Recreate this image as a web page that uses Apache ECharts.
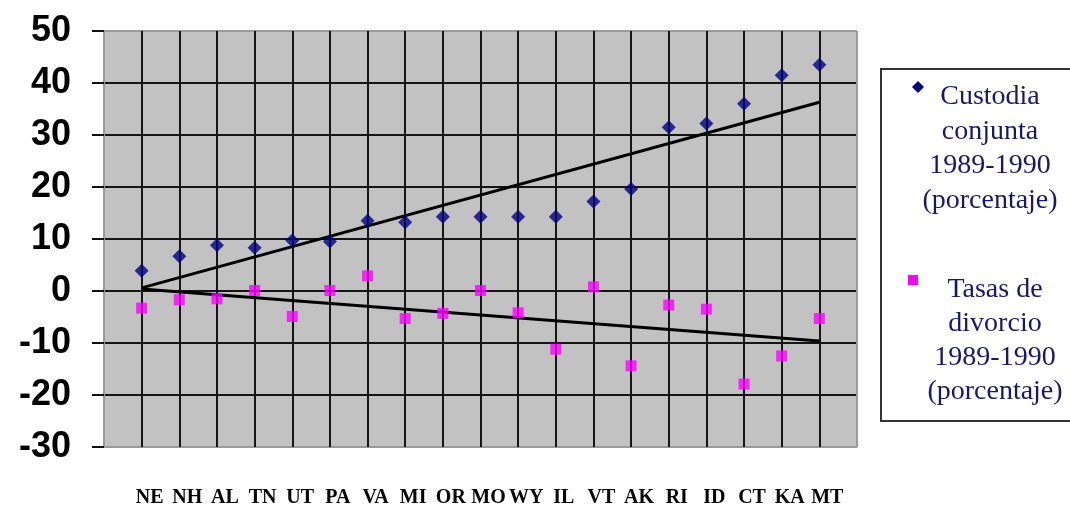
<!DOCTYPE html>
<html>
<head>
<meta charset="utf-8">
<script src="https://cdn.jsdelivr.net/npm/echarts@6/dist/echarts.min.js"></script>
<style>
html,body{margin:0;padding:0;background:#fff;}
#chart{width:1070px;height:513px;}
</style>
</head>
<body>
<div id="chart"></div>
<script>
// ---- data ----
var states = ['NE','NH','AL','TN','UT','PA','VA','MI','OR','MO','WY','IL','VT','AK','RI','ID','CT','KA','MT'];
var custodia = [3.9,6.7,8.8,8.3,9.7,9.5,13.5,13.2,14.3,14.3,14.3,14.3,17.2,19.6,31.5,32.2,36.0,41.5,43.5];
var divorcio = [-3.3,-1.7,-1.5,0.1,-4.9,0.1,2.9,-5.3,-4.3,0.1,-4.2,-11.2,0.8,-14.4,-2.7,-3.5,-17.9,-12.5,-5.3];
// trend line end values (first and last state)
var trendCustodia = [0.6, 36.3];
var trendDivorcio = [0.4, -9.6];
var yTicks = [-30,-20,-10,0,10,20,30,40,50];
var legendCustodia = ['Custodia','conjunta','1989-1990','(porcentaje)'];
var legendDivorcio = ['Tasas de','divorcio','1989-1990','(porcentaje)'];

var chart = echarts.init(document.getElementById('chart'), null, {renderer:'canvas'});

function pairs(vals){ return vals.map(function(v,i){ return [i+1, v]; }); }
function ends(v){ return [[1, v[0]], [states.length, v[1]]]; }

var xSplitColors = [];
for (var i = 0; i <= states.length + 1; i++) xSplitColors.push((i === 0 || i === states.length + 1) ? '#9a9a9a' : '#151515');
var ySplitColors = yTicks.map(function(t, i){ return (i === 0 || i === yTicks.length - 1) ? '#9a9a9a' : '#151515'; });

var navy = '#17176e';
var legendFont = '28px "Liberation Serif", "Times New Roman", serif';

var graphics = [
  {type:'rect', shape:{x:881,y:69,width:200,height:352}, style:{fill:'#fff', stroke:'#333', lineWidth:2}, z:10},
  {type:'polygon', shape:{points:[[918,81],[924,87],[918,93],[912,87]]}, style:{fill:'#000080'}, z:11},
  {type:'rect', shape:{x:908,y:275,width:10,height:10}, style:{fill:'#ff00ff'}, z:11}
];
legendCustodia.forEach(function(t, i){
  graphics.push({type:'text', x:990, y:97 + i*34.5, style:{text:t, font:legendFont, fill:navy, textAlign:'center', textVerticalAlign:'middle'}, z:11});
});
legendDivorcio.forEach(function(t, i){
  graphics.push({type:'text', x:995, y:290 + i*34, style:{text:t, font:legendFont, fill:navy, textAlign:'center', textVerticalAlign:'middle'}, z:11});
});

var option = {
  animation:false,
  backgroundColor:'#ffffff',
  grid:{left:104, top:31, right:213, bottom:66, show:true, backgroundColor:'#c2c2c2', borderColor:'#9a9a9a', borderWidth:1},
  xAxis:{
    type:'value', min:0, max:states.length+1, interval:1,
    axisLine:{show:false}, axisTick:{show:false},
    splitLine:{show:true, lineStyle:{color:xSplitColors, width:2}},
    axisLabel:{
      margin:41, fontFamily:'"Liberation Serif", "Times New Roman", serif', fontWeight:'bold', fontSize:20, color:'#000',
      padding:[0,0,0,16],
      formatter:function(v){ return states[v-1] || ''; }
    }
  },
  yAxis:{
    type:'value', min:yTicks[0], max:yTicks[yTicks.length-1], interval:10,
    axisLine:{show:false},
    axisTick:{show:true, length:12, lineStyle:{color:'#111', width:2}},
    splitLine:{show:true, lineStyle:{color:ySplitColors, width:2}},
    axisLabel:{margin:33, fontFamily:'"Liberation Sans", Arial, sans-serif', fontWeight:'bold', fontSize:36, color:'#000'}
  },
  series:[
    {type:'line', data:ends(trendCustodia), symbol:'none', lineStyle:{color:'#000', width:3}, z:3, silent:true},
    {type:'line', data:ends(trendDivorcio), symbol:'none', lineStyle:{color:'#000', width:3}, z:3, silent:true},
    {name:'Custodia conjunta 1989-1990 (porcentaje)', type:'scatter', data:pairs(custodia), symbol:'diamond', symbolSize:[14,14], itemStyle:{color:'#000080'}, z:4},
    {name:'Tasas de divorcio 1989-1990 (porcentaje)', type:'scatter', data:pairs(divorcio), symbol:'rect', symbolSize:11, itemStyle:{color:'#ff00ff'}, z:4}
  ],
  graphic:graphics
};
chart.setOption(option);
</script>
</body>
</html>
